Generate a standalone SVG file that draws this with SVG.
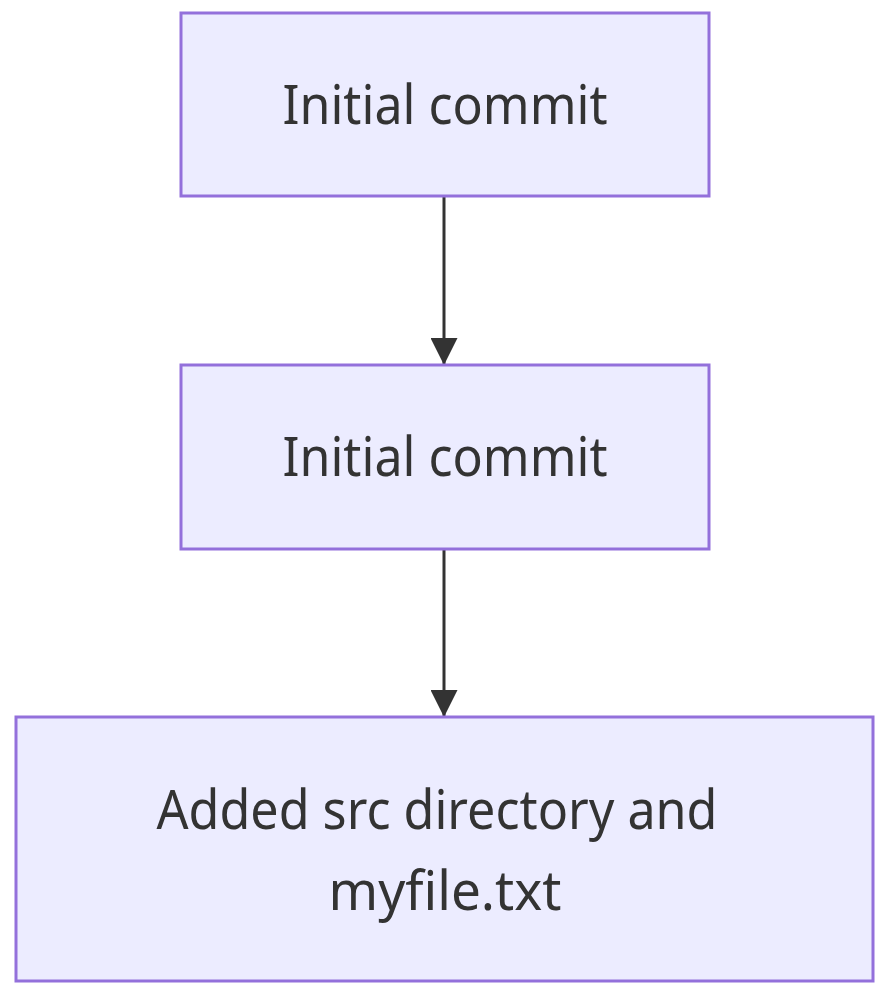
<svg xmlns="http://www.w3.org/2000/svg" width="894" height="996" viewBox="0 0 894 996">
<style>
.node rect{fill:#ECECFF;stroke:#9370DB;stroke-width:3}
.node text{font-family:"Noto Sans","DejaVu Sans",sans-serif;font-size:54px;fill:#333333;text-anchor:middle}
.edge{stroke:#333333;stroke-width:3;fill:none}
</style>
<defs>
<marker id="arrow" viewBox="0 0 10 10" refX="10" refY="5" markerUnits="userSpaceOnUse" markerWidth="27" markerHeight="27" orient="auto">
<path d="M0,0 L10,5 L0,10 z" fill="#333333"/>
</marker>
</defs>
<rect width="894" height="996" fill="#ffffff"/>
<g id="edges">
<path class="edge" d="M444,196 L444,365" marker-end="url(#arrow)"/>
<path class="edge" d="M444,549 L444,717" marker-end="url(#arrow)"/>
</g>
<g id="node1" class="node">
<rect x="181" y="13" width="528" height="183"/>
<text x="445" y="124" textLength="325" lengthAdjust="spacingAndGlyphs">Initial commit</text>
</g>
<g id="node2" class="node">
<rect x="181" y="365" width="528" height="184"/>
<text x="445" y="476" textLength="325" lengthAdjust="spacingAndGlyphs">Initial commit</text>
</g>
<g id="node3" class="node">
<rect x="16" y="717" width="857" height="264"/>
<text x="437" y="829" textLength="561" lengthAdjust="spacingAndGlyphs">Added src directory and</text>
<text x="445" y="910" textLength="233" lengthAdjust="spacingAndGlyphs">myfile.txt</text>
</g>
</svg>
